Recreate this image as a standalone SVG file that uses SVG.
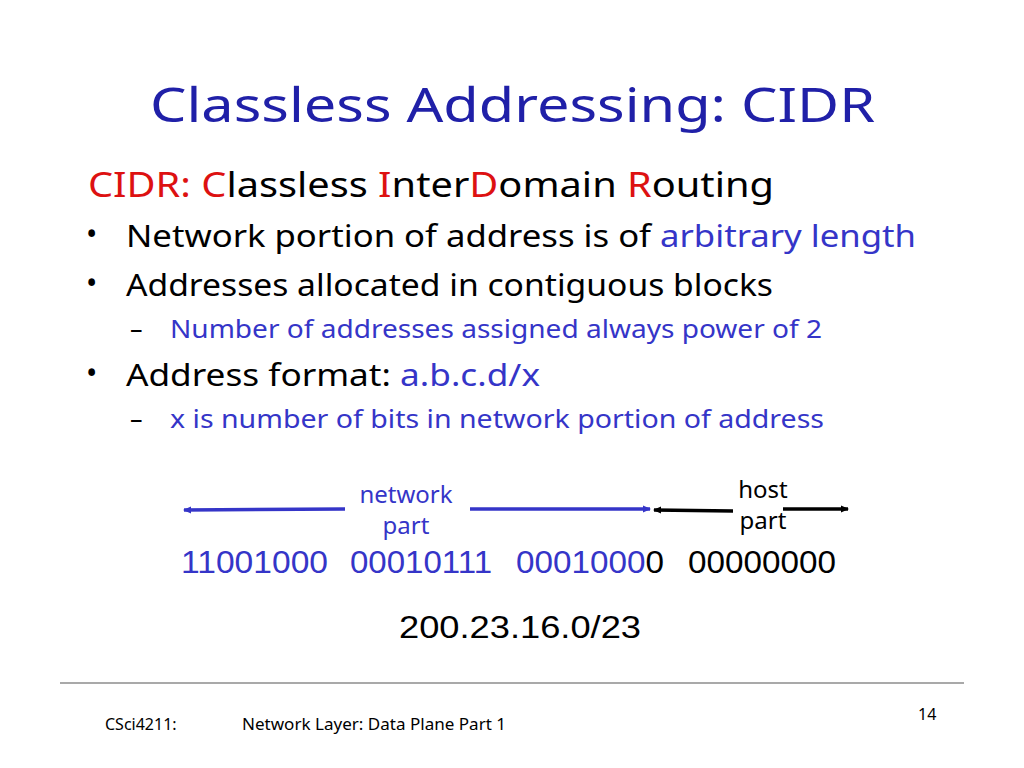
<svg xmlns="http://www.w3.org/2000/svg" width="1024" height="768" viewBox="0 0 1024 768">
<style>
.c{font-family:"Noto Sans","DejaVu Sans",sans-serif}
.a{font-family:"Liberation Sans",Arial,sans-serif}
.b{fill:#3535c8}
.k{fill:#000}
.r{fill:#dd1111}
</style>
<defs>
<marker id="mb" markerWidth="8" markerHeight="8" refX="7" refY="4" orient="auto-start-reverse" markerUnits="userSpaceOnUse"><path d="M0,0.5 L8,4 L0,7.5 z" fill="#3535c8"/></marker>
<marker id="mk" markerWidth="8" markerHeight="8" refX="7" refY="4" orient="auto-start-reverse" markerUnits="userSpaceOnUse"><path d="M0,0.5 L8,4 L0,7.5 z" fill="#000"/></marker>
</defs>
<rect width="1024" height="768" fill="#fff"/>
<text class="c" x="150" y="122" font-size="48" fill="#2020a8" textLength="725" lengthAdjust="spacingAndGlyphs">Classless Addressing: CIDR</text>
<text class="c" x="88" y="197" font-size="34" textLength="686" lengthAdjust="spacingAndGlyphs"><tspan class="r">CIDR: C</tspan><tspan class="k">lassless </tspan><tspan class="r">I</tspan><tspan class="k">nter</tspan><tspan class="r">D</tspan><tspan class="k">omain </tspan><tspan class="r">R</tspan><tspan class="k">outing</tspan></text>
<g class="c" font-size="30">
<text x="86" y="245" class="k">•</text>
<text x="126" y="247" textLength="790" lengthAdjust="spacingAndGlyphs"><tspan class="k">Network portion of address is of </tspan><tspan class="b">arbitrary length</tspan></text>
<text x="86" y="294" class="k">•</text>
<text x="126" y="296" class="k" textLength="647" lengthAdjust="spacingAndGlyphs">Addresses allocated in contiguous blocks</text>
<text x="86" y="384" class="k">•</text>
<text x="126" y="386" textLength="414" lengthAdjust="spacingAndGlyphs"><tspan class="k">Address format: </tspan><tspan class="b">a.b.c.d/x</tspan></text>
</g>
<g class="c" font-size="25">
<text x="130" y="338" class="k">–</text>
<text x="170" y="338" class="b" textLength="652" lengthAdjust="spacingAndGlyphs">Number of addresses assigned always power of 2</text>
<text x="130" y="428" class="k">–</text>
<text x="170" y="428" class="b" textLength="654" lengthAdjust="spacingAndGlyphs">x is number of bits in network portion of address</text>
</g>
<g id="labels" class="c" font-size="24">
<text x="406" y="503" class="b" text-anchor="middle">network</text>
<text x="406" y="534" class="b" text-anchor="middle">part</text>
<text x="763" y="498" class="k" text-anchor="middle">host</text>
<text x="763" y="529" class="k" text-anchor="middle">part</text>
</g>
<g id="connectors" stroke-width="3.5" fill="none">
<line x1="345" y1="509" x2="184" y2="510" stroke="#3535c8" marker-end="url(#mb)"/>
<line x1="470" y1="509" x2="650" y2="509" stroke="#3535c8" marker-end="url(#mb)"/>
<line x1="733" y1="511" x2="654" y2="510" stroke="#000" marker-end="url(#mk)"/>
<line x1="783" y1="509" x2="848" y2="509" stroke="#000" marker-end="url(#mk)"/>
</g>
<g class="a" font-size="32">
<text x="181" y="573" class="b" textLength="147" lengthAdjust="spacingAndGlyphs">11001000</text>
<text x="350" y="573" class="b" textLength="142" lengthAdjust="spacingAndGlyphs">00010111</text>
<text x="516" y="573" textLength="148" lengthAdjust="spacingAndGlyphs"><tspan class="b">0001000</tspan><tspan class="k">0</tspan></text>
<text x="688" y="573" class="k" textLength="148" lengthAdjust="spacingAndGlyphs">00000000</text>
<text x="399" y="638" class="k" textLength="242" lengthAdjust="spacingAndGlyphs">200.23.16.0/23</text>
</g>
<line x1="60" y1="683" x2="964" y2="683" stroke="#555" stroke-width="1.2"/>
<g class="c k" font-size="16">
<text x="105" y="730">CSci4211:</text>
<text x="242" y="730" textLength="264" lengthAdjust="spacingAndGlyphs">Network Layer: Data Plane Part 1</text>
<text x="918" y="720">14</text>
</g>
</svg>
